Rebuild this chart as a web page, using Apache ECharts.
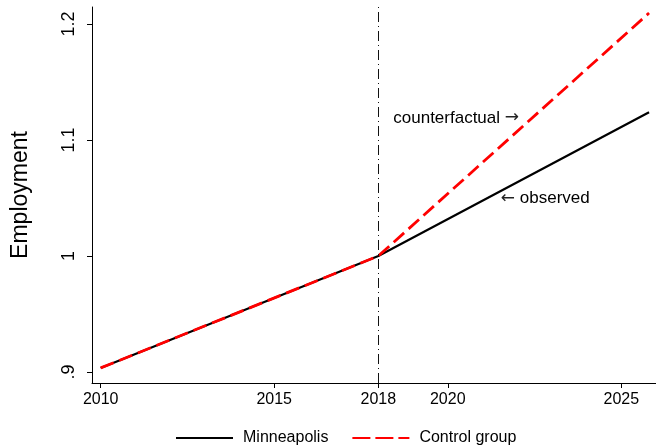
<!DOCTYPE html>
<html>
<head>
<meta charset="utf-8">
<script src="https://cdn.jsdelivr.net/npm/echarts@6/dist/echarts.min.js"></script>
<style>
  html, body { margin: 0; padding: 0; background: #fff; }
  #chart { width: 656px; height: 446px; }
</style>
</head>
<body>
<div id="chart"></div>
<script>
// values
var years = [2010, 2018, 2025.8];
var minneapolis = [0.9035, 1.0, 1.124];
var controlGroup = [0.9035, 1.0, 1.2095];
var xTicks = [2010, 2015, 2018, 2020, 2025];
var yTicks = [0.9, 1, 1.1, 1.2];
var treatYear = 2018;

var font = "'Liberation Sans', Arial, sans-serif";

function pairs(xs, ys) {
  return xs.map(function (x, i) { return [x, ys[i]]; });
}

// text notes are anchored by their left edge
var noteLabel = {
  show: true,
  position: 'inside',
  align: 'left',
  color: '#000',
  fontSize: 17,
  fontFamily: font,
  rich: {
    arr: { fontFamily: "'DejaVu Sans', sans-serif", fontSize: 17, color: '#222' }
  }
};

var chart = echarts.init(document.getElementById('chart'));

var option = {
  animation: false,
  textStyle: { fontFamily: font, color: '#000' },
  grid: { left: 92, right: 0, top: 7, bottom: 63, outerBoundsMode: 'none' },
  legend: {
    bottom: -5,
    left: 170,
    itemWidth: 57,
    itemHeight: 3,
    itemGap: 23,
    itemStyle: { opacity: 0 },
    textStyle: { fontFamily: font, fontSize: 16, color: '#000', padding: [0, 0, 0, 5] },
    data: [
      { name: 'Minneapolis' },
      { name: 'Control group', lineStyle: { type: [18, 5] } }
    ]
  },
  xAxis: {
    type: 'value',
    min: 2009.75,
    max: 2026,
    splitLine: { show: false },
    axisLine: { lineStyle: { color: '#000', width: 1 } },
    axisTick: { customValues: xTicks, length: 5, lineStyle: { color: '#000' } },
    axisLabel: {
      customValues: xTicks,
      color: '#000',
      fontSize: 16,
      fontFamily: font,
      margin: 9,
      formatter: function (v) { return String(v); }
    }
  },
  yAxis: {
    type: 'value',
    min: 0.8905,
    max: 1.2147,
    name: 'Employment',
    nameLocation: 'middle',
    nameGap: 60,
    nameTextStyle: { fontSize: 23, color: '#000', fontFamily: font },
    splitLine: { show: false },
    axisLine: { show: true, lineStyle: { color: '#000', width: 1 } },
    axisTick: { customValues: yTicks, length: 5, lineStyle: { color: '#000' } },
    axisLabel: {
      customValues: yTicks,
      rotate: 90,
      color: '#000',
      fontSize: 18,
      fontFamily: font,
      margin: 14,
      formatter: function (v) {
        var s = String(Math.round(v * 10) / 10);
        return s.charAt(0) === '0' ? s.slice(1) : s;
      }
    }
  },
  series: [
    {
      name: 'Minneapolis',
      type: 'line',
      symbol: 'none',
      data: pairs(years, minneapolis),
      itemStyle: { color: '#000' },
      lineStyle: { color: '#000', width: 2.2 },
      z: 2,
      markLine: {
        silent: true,
        symbol: 'none',
        label: { show: false },
        lineStyle: { color: '#111', width: 1, type: [10, 4, 1, 4] },
        data: [{ xAxis: treatYear }]
      },
      markPoint: {
        symbol: 'circle',
        symbolSize: 1,
        itemStyle: { color: 'rgba(0,0,0,0)' },
        label: noteLabel,
        data: [
          { coord: [2021.53, 1.0499], value: 'observed', label: { formatter: '{arr|←} observed' } }
        ]
      }
    },
    {
      name: 'Control group',
      type: 'line',
      symbol: 'none',
      data: pairs(years, controlGroup),
      itemStyle: { color: '#ff0000' },
      lineStyle: { color: '#ff0000', width: 2.8, type: [14, 6] },
      z: 3,
      markPoint: {
        symbol: 'circle',
        symbolSize: 1,
        itemStyle: { color: 'rgba(0,0,0,0)' },
        label: noteLabel,
        data: [
          { coord: [2018.43, 1.119], value: 'counterfactual', label: { formatter: 'counterfactual {arr|→}' } }
        ]
      }
    }
  ]
};

chart.setOption(option);
</script>
</body>
</html>
